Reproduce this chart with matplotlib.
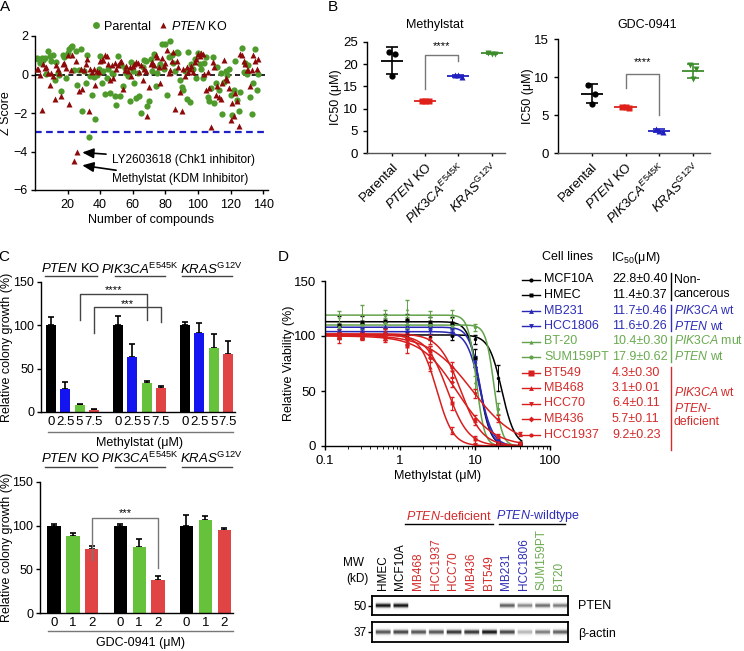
import numpy as np
import matplotlib
matplotlib.use('Agg')
import matplotlib.pyplot as plt
from matplotlib import transforms

plt.rcParams['font.family'] = ['Liberation Sans', 'DejaVu Sans']
plt.rcParams['mathtext.fontset'] = 'custom'
plt.rcParams['mathtext.rm'] = 'Liberation Sans'
plt.rcParams['mathtext.it'] = 'Liberation Sans:italic'
plt.rcParams['mathtext.bf'] = 'Liberation Sans:bold'
plt.rcParams['font.size'] = 8.5
plt.rcParams['axes.linewidth'] = 1.0
plt.rcParams['xtick.major.width'] = 1.0
plt.rcParams['ytick.major.width'] = 1.0
plt.rcParams['xtick.major.size'] = 3
plt.rcParams['ytick.major.size'] = 3

# ---------------- data ----------------
# A: screen Z scores, compounds 1..137
parental_z = [0.85, 0.82, 0.60, 0.85, 0.75, 0.87, 0.05, 1.22, 0.94, 0.70,
              0.99, -0.26, 0.65, 0.10, 0.00, -0.86, 1.00, 0.90, -0.20, 1.10,
              1.33, 1.42, 1.50, 0.25, 1.20, -0.55, 0.22, 1.30, -1.92, 0.20,
              -0.46, 1.00, -3.24, -0.10, -1.06, -0.12, -2.30, 0.00, 0.30, 0.94,
              -0.46, 0.20, -1.00, -0.20, 0.30, -0.98, 0.10, 0.05, -1.10, -1.58,
              0.94, -1.10, 0.50, -0.60, 0.35, 0.10, -0.10, -1.37, 0.65, 0.20,
              -0.43, -1.23, 0.10, -1.10, -2.00, 0.40, 0.74, 0.70, -1.63, -1.40,
              0.82, 0.20, 1.08, -0.60, 0.10, 0.40, 0.57, 1.56, 0.30, 1.56,
              -1.06, 0.90, 1.76, 1.00, 0.60, 0.20, 1.16, 1.11, -0.29, -0.63,
              -0.80, 0.20, -1.28, 1.15, -1.45, 0.53, 0.30, 0.80, -0.20, 1.11,
              0.57, 0.30, -0.20, 0.60, 0.90, -1.15, -1.40, -0.72, 0.90, -1.50,
              -0.46, 0.40, -0.80, 0.10, -2.04, -0.38, 0.20, -0.03, 0.30, -1.06,
              -2.09, -0.80, 0.70, -1.30, -1.88, -0.89, 1.40, 0.14, 0.60, 0.05,
              0.50, -1.15, -2.04, -0.43, 1.34, -0.80, 0.05]
pten_ko_z = [0.30, 0.26, 0.00, -1.83, 0.56, 0.35, 0.40, 0.10, -0.55, 0.10,
             -0.10, -1.28, 0.50, 0.30, 0.10, -1.10, 0.55, 0.60, 0.35, 1.00,
             -1.52, 0.25, 1.00, -4.50, 0.70, -4.00, -0.84, 0.30, -0.77, 0.25,
             0.53, 0.80, -1.92, 0.30, 0.15, 0.30, -0.55, 0.20, 0.13, 0.70,
             0.75, 0.77, 1.00, 0.95, 0.55, -0.30, 0.50, -0.20, 0.60, 0.26,
             0.50, 0.65, 0.70, -0.77, 0.25, 0.45, 0.20, 0.40, -0.10, 0.45,
             0.53, 0.65, 0.60, 0.15, 0.50, -0.30, 0.30, 0.20, -2.17, -0.63,
             0.55, 0.65, 0.50, 1.00, 0.90, 0.40, -0.46, 0.85, 0.45, 0.60,
             1.28, 0.10, 0.25, 0.70, 1.16, -1.78, 0.70, 0.40, -0.90, -1.88,
             0.30, -0.10, 0.40, 0.15, 0.30, 0.45, 0.15, 0.65, 0.80, 1.08,
             0.95, 1.10, 1.05, 0.05, -0.80, 0.15, -0.70, -2.72, 0.65, 0.40,
             -1.05, -0.60, -1.15, -1.25, -0.45, 0.75, -0.20, -0.30, -0.70, -2.38,
             -1.50, -2.14, -0.95, -1.40, -2.69, 1.08, 1.00, 0.70, 0.55, 0.25,
             0.25, -0.60, 0.25, 1.00, 0.70, 0.30, 0.80]

# B: IC50 replicates (uM)
b_labels = ['Parental', r'$\it{PTEN}$ KO', r'$\it{PIK3CA}^{E545K}$', r'$\it{KRAS}^{\rm{G12V}}$']
methylstat_ic50 = [[22.8, 22.4, 17.3], [11.8, 11.6, 11.7], [17.6, 17.2, 17.5], [22.6, 22.4, 22.3]]
gdc_ic50 = [[9.0, 7.8, 6.5], [6.1, 5.9, 6.0], [3.1, 2.7, 2.9], [11.6, 11.0, 9.8]]

# C: relative colony growth (%)
methyl_doses = ['0', '2.5', '5', '7.5']
methyl_growth = [[100, 27, 8, 2], [100, 63, 34, 28], [100, 91, 74, 67]]
methyl_err = [[10, 8, 1.5, 1], [11, 16, 2, 2.5], [4, 12, 16, 15]]
gdc_doses = ['0', '1', '2']
gdc_growth = [[100, 88, 73], [100, 76, 38], [100, 107, 95]]
gdc_err = [[1.5, 3.5, 4], [2, 9, 4], [12, 4, 2]]

# D: dose response
d_names = ['MCF10A', 'HMEC', 'MB231', 'HCC1806', 'BT-20', 'SUM159PT',
           'BT549', 'MB468', 'HCC70', 'MB436', 'HCC1937']
d_ic50 = [22.8, 11.4, 11.7, 11.6, 10.4, 17.9, 4.3, 3.1, 6.4, 5.7, 9.2]
d_ic50_sem = [0.40, 0.37, 0.46, 0.26, 0.30, 0.62, 0.30, 0.01, 0.11, 0.11, 0.23]
d_top = [101, 113, 108, 104, 119, 110, 101, 101, 102, 100, 101]
d_hill = [5, 6, 6, 5, 8, 8, 3.1, 4, 3, 1.8, 1.5]
d_conc = [0.156, 0.3125, 0.625, 1.25, 2.5, 5, 10, 20, 40]
d_viab = [[101, 100, 103, 101, 99, 100, 97, 62, 3],
          [110, 113, 114, 115, 113, 112, 80, 2, 0.5],
          [106, 108, 109, 110, 108, 107, 77, 3, 1],
          [103, 104, 102, 104, 105, 103, 76, 4, 1],
          [117, 120, 119, 125, 118, 120, 58, 1, 0],
          [108, 110, 112, 111, 110, 109, 108, 34, 0.5],
          [99, 100, 101, 91, 86, 39, 6, 1, 0],
          [101, 100, 99, 98, 72, 14, 1, 0, 0],
          [102, 101, 103, 100, 97, 67, 22, 3, 1],
          [100, 101, 99, 97, 80, 58, 25, 9, 3],
          [101, 100, 98, 95, 87, 72, 48, 25, 11]]
d_sd = [[4, 3, 4, 3, 3, 4, 4, 12, 1],
        [8, 5, 6, 5, 4, 5, 8, 1, 0.5],
        [3, 3, 4, 4, 3, 3, 5, 2, 1],
        [3, 3, 3, 3, 3, 3, 4, 2, 1],
        [6, 8, 5, 8, 5, 4, 6, 1, 0.5],
        [3, 4, 4, 4, 3, 3, 3, 5, 0.5],
        [5, 4, 5, 6, 5, 6, 3, 1, 0.5],
        [3, 3, 3, 3, 4, 3, 1, 0.5, 0.5],
        [4, 3, 4, 3, 4, 4, 3, 1, 0.5],
        [3, 3, 3, 4, 4, 4, 3, 2, 1],
        [3, 3, 3, 3, 4, 4, 4, 3, 2]]

# blot
lanes = ['HMEC', 'MCF10A', 'MB468', 'HCC1937', 'HCC70', 'MB436', 'BT549',
         'MB231', 'HCC1806', 'SUM159PT', 'BT20']
pten_band = [0.95, 0.95, 0, 0, 0, 0, 0, 0.7, 0.55, 0.65, 0.6]
actin_band = [0.75, 0.8, 0.75, 0.75, 0.85, 0.85, 0.95, 0.8, 0.4, 0.6, 0.7]

# ---------------- colours ----------------
A_GREEN, A_RED = '#4e9a2a', '#8c0a0a'
RED, BLUE, GREEN = '#e0201a', '#2020c0', '#3c8c2c'
BAR_BLUE, BAR_GREEN, BAR_RED = '#1414f0', '#66c23a', '#e04444'
D_BLUE, D_GREEN, D_RED = '#2828b4', '#62a24a', '#d81e1e'
T_BLUE, T_GREEN, T_RED = '#2e2eb8', '#6aaa50', '#d42a2a'

W, H = 744, 651
fig = plt.figure(figsize=(W / 100, H / 100), dpi=100)


def box(l, t, r, b):
    return [l / W, 1 - b / H, (r - l) / W, (b - t) / H]


def clean(ax):
    ax.spines['top'].set_visible(False)
    ax.spines['right'].set_visible(False)


# overlay in pixel coordinates for labels, brackets, legends
ov = fig.add_axes([0, 0, 1, 1])
ov.set_xlim(0, W)
ov.set_ylim(H, 0)
ov.axis('off')
ov.set_zorder(10)

for lab, x, y in [('A', 5, 7), ('B', 333, 7), ('C', 4, 257), ('D', 283, 257)]:
    ov.text(x, y, lab, fontsize=11, ha='center', va='center')

# ---------------- A ----------------
axA = fig.add_axes(box(35, 36, 268, 190))
cmp_idx = np.arange(1, len(parental_z) + 1)
axA.axhline(0, color='k', ls=(0, (3, 2)), lw=1.2, zorder=1)
axA.axhline(-3, color='#2020c8', ls=(0, (3, 2)), lw=1.6, zorder=1)
axA.plot(cmp_idx, parental_z, 'o', color=A_GREEN, ms=4.5, mec='none', label='Parental', zorder=2)
axA.plot(cmp_idx, pten_ko_z, '^', color=A_RED, ms=4.2, mec='none', label=r'$\it{PTEN}$ KO', zorder=3)
axA.set_xlim(0, 143)
axA.set_ylim(-6, 2)
axA.set_xticks(range(20, 141, 20))
axA.set_yticks([-6, -4, -2, 0, 2])
axA.tick_params(labelsize=9)
axA.tick_params(axis='y', pad=2)
axA.set_xlabel('Number of compounds', fontsize=9, labelpad=2)
axA.set_ylabel('Z Score', fontsize=9)
axA.yaxis.set_label_coords(-0.1, 0.5)
clean(axA)
axA.legend(loc='lower center', bbox_to_anchor=(0.53, 0.98), ncol=2, frameon=False,
           handletextpad=0.1, columnspacing=0.5, handlelength=1.0,
           borderaxespad=0.1, fontsize=9, markerscale=1.1)
arrow = dict(arrowstyle='-|>,head_length=0.8,head_width=0.35', color='k', lw=1.2,
             shrinkA=2, shrinkB=0)
axA.annotate('LY2603618 (Chk1 inhibitor)', xy=(29, -4.05), xytext=(47, -4.42),
             ha='left', va='center', fontsize=8.5, arrowprops=arrow)
axA.annotate('Methylstat (KDM Inhibitor)', xy=(29, -4.72), xytext=(47, -5.45),
             ha='left', va='center', fontsize=8.5, arrowprops=arrow)

# ---------------- B ----------------
b_colors = ['k', RED, BLUE, GREEN]
b_markers = ['o', 's', '^', 'v']
jitter = [-0.1, 0.1, 0.0]
axB1 = fig.add_axes(box(367, 42, 505, 153))
axB2 = fig.add_axes(box(558, 39, 710, 153))
b_specs = [(axB1, methylstat_ic50, (-0.75, 3.4), 25, -0.18, (14.5, 22.0, 20.7, 24.0)),
           (axB2, gdc_ic50, (-1.0, 3.5), 15, -0.16, (8.6, 10.4, 5.0, 11.9))]
for ax, vals, xl, ymax, lab_x, (l_low, top, r_low, star_y) in b_specs:
    for i, reps in enumerate(vals):
        m, sd = np.mean(reps), np.std(reps, ddof=1)
        ax.plot([i + j for j in jitter], reps, b_markers[i], color=b_colors[i], ms=4.5, mec='none')
        ax.hlines(m, i - 0.33, i + 0.33, color=b_colors[i], lw=1.3)
        ax.errorbar(i, m, yerr=sd, color=b_colors[i], capsize=4, lw=1.2, capthick=1.2)
    ax.plot([1, 1, 2, 2], [l_low, top, top, r_low], color='#777777', lw=1)
    ax.text(1.5, star_y, '****', ha='center', va='center', fontsize=8)
    ax.set_xlim(*xl)
    ax.set_ylim(0, ymax)
    ax.set_yticks(range(0, ymax + 1, 5))
    ax.set_xticks(range(4))
    ax.set_xticklabels(b_labels, rotation=45, ha='right', rotation_mode='anchor', fontsize=9.5)
    ax.tick_params(axis='y', labelsize=9.5)
    ax.tick_params(axis='x', length=2)
    ax.set_ylabel('IC50 (μM)', fontsize=9)
    ax.yaxis.set_label_coords(lab_x, 0.5)
    ax.spines['bottom'].set_color('#555555')
    clean(ax)
ov.text(435, 25, 'Methylstat', ha='center', va='center', fontsize=9)
ov.text(647, 25, 'GDC-0941', ha='center', va='center', fontsize=9)

# ---------------- C ----------------
def colony(ax, growth, err, doses, colors, gap, xl, lab_x):
    xs, labels = [], []
    for g, (vals, es) in enumerate(zip(growth, err)):
        x = [g * gap + i for i in range(len(vals))]
        ax.bar(x, vals, width=0.7, color=colors, zorder=2)
        ax.errorbar(x, vals, yerr=[[0] * len(es), es], fmt='none', ecolor='k',
                    capsize=2.5, lw=1.2, capthick=1.2, zorder=1)
        xs += x
        labels += doses
    ax.set_xticks(xs)
    ax.set_xticklabels(labels, fontsize=9.5)
    ax.tick_params(axis='x', length=0, pad=3)
    ax.set_xlim(*xl)
    ax.set_ylim(0, 150)
    ax.set_yticks([0, 50, 100, 150])
    ax.tick_params(axis='y', labelsize=9, pad=2)
    ax.set_ylabel('Relative colony growth (%)', fontsize=9)
    ax.yaxis.set_label_coords(lab_x, 0.5)
    clean(ax)


axC1 = fig.add_axes(box(41, 282, 235, 412))
colony(axC1, methyl_growth, methyl_err, methyl_doses, ['k', BAR_BLUE, BAR_GREEN, BAR_RED],
       4.7, (-0.7, 12.9), -0.145)
axC1.plot([2, 2, 6.7, 6.7], [106, 136.7, 136.7, 106], color='#444444', lw=1)
axC1.text(4.35, 140.5, '****', ha='center', va='center', fontsize=8)
axC1.plot([3, 3, 7.7, 7.7], [90.7, 120.6, 120.6, 104], color='#444444', lw=1)
axC1.text(5.35, 125, '***', ha='center', va='center', fontsize=8)

axC2 = fig.add_axes(box(40, 482, 233, 613))
colony(axC2, gdc_growth, gdc_err, gdc_doses, ['k', BAR_GREEN, BAR_RED], 3.5, (-0.74, 9.46), -0.142)
axC2.plot([2, 2, 5.5, 5.5], [60.8, 109, 109, 51], color='#777777', lw=1)
axC2.text(3.75, 114.5, '***', ha='center', va='center', fontsize=8)

headers = [r'$\it{PTEN}$ KO', r'$\it{PIK3CA}^{\rm{E545K}}$', r'$\it{KRAS}^{\rm{G12V}}$']
for ty, uy, ly in [(269, 275.5, 432), (458, 467, 631)]:
    for xc, (u0, u1), hd in zip([71, 140, 211], [(45, 97), (115, 165), (182, 232)], headers):
        ov.text(xc, ty, hd, ha='center', va='center', fontsize=9.5)
        ov.plot([u0, u1], [uy, uy], color='#444444', lw=1)
    ov.plot([48, 233], [ly, ly], color='#777777', lw=1)
ov.text(140, 443, 'Methylstat (μM)', ha='center', va='center', fontsize=9)
ov.text(140, 643, 'GDC-0941 (μM)', ha='center', va='center', fontsize=9)

# ---------------- D ----------------
d_colors = ['k', 'k', D_BLUE, D_BLUE, D_GREEN, D_GREEN] + [D_RED] * 5
t_colors = ['k', 'k', T_BLUE, T_BLUE, T_GREEN, T_GREEN] + [T_RED] * 5
d_markers = ['o', 's', '^', 'v', '^', 'o', 's', '^', 'v', 'D', 'o']
d_ms = [2.5, 3, 3, 3, 2.5, 2.5, 3.5, 3, 3, 2.5, 2.5]
axD = fig.add_axes(box(325, 281, 550, 446))
cx = np.logspace(-1, np.log10(42), 300)
for k in range(len(d_names)):
    fit = d_top[k] / (1 + (cx / d_ic50[k]) ** d_hill[k])
    axD.plot(cx, fit, color=d_colors[k], lw=1.1)
    axD.errorbar(d_conc, d_viab[k], yerr=d_sd[k], fmt=d_markers[k], color=d_colors[k],
                 ms=d_ms[k], lw=0.7, elinewidth=0.7, capsize=1.5, mec='none')
axD.set_xscale('log')
axD.set_xlim(0.1, 100)
axD.set_ylim(0, 150)
axD.set_xticks([0.1, 1, 10, 100])
axD.set_xticklabels(['0.1', '1', '10', '100'])
axD.set_yticks([0, 50, 100, 150])
axD.tick_params(labelsize=9.5)
axD.set_xlabel('Methylstat (μM)', fontsize=9, labelpad=2)
axD.set_ylabel('Relative Viability (%)', fontsize=9)
axD.yaxis.set_label_coords(-0.135, 0.5)
clean(axD)

# D legend table
ov.text(568, 257, 'Cell lines', ha='center', va='center', fontsize=9)
ov.text(636, 258, r'IC$_{50}$(μM)', ha='center', va='center', fontsize=9)
for k, name in enumerate(d_names):
    y = 279.5 + k * 15.5
    ov.plot([522, 540], [y, y], color=d_colors[k], lw=1)
    ov.plot([531], [y], d_markers[k], color=d_colors[k], ms=d_ms[k] + 0.5, mec='none')
    ov.text(544, y, name, color=t_colors[k], ha='left', va='center', fontsize=9)
    ov.text(612, y, f'{d_ic50[k]:.1f}±{d_ic50_sem[k]:.2f}', color=t_colors[k],
            ha='left', va='center', fontsize=9)
groups = [('k', (273, 300), ['Non-', 'cancerous'], [280, 294]),
          (T_BLUE, (305, 331), [r'$\it{PIK3CA}$ wt', r'$\it{PTEN}$ wt'], [311, 326]),
          (T_GREEN, (336, 362), [r'$\it{PIK3CA}$ mut', r'$\it{PTEN}$ wt'], [341, 357]),
          (T_RED, (367, 450), [r'$\it{PIK3CA}$ wt', r'$\it{PTEN}$-', 'deficient'], [393, 408, 422])]
for col, (y0, y1), texts, ys in groups:
    ov.plot([670.5, 670.5], [y0, y1], color=col, lw=1)
    for t, yy in zip(texts, ys):
        ov.text(674, yy, t, color=col, ha='left', va='center', fontsize=8.8)

# ---------------- western blot ----------------
def band_image(levels):
    rows = np.linspace(-1, 1, 40)[:, None]
    cols = np.linspace(-0.5, len(levels) - 0.5, len(levels) * 30, endpoint=False)
    idx = np.clip(np.round(cols).astype(int), 0, len(levels) - 1)
    inside = np.abs(cols - idx) < 0.43
    return np.exp(-(rows / 0.25) ** 2) * inside * np.array(levels)[idx]


axP = fig.add_axes(box(372, 596, 568, 615))
axAct = fig.add_axes(box(372, 622, 568, 642))
for ax, lev, mw, name, ny in [(axP, pten_band, '50', 'PTEN', 606),
                               (axAct, actin_band, '37', 'β-actin', 634)]:
    ax.imshow(band_image(lev), cmap='Greys', vmin=0, vmax=1, aspect='auto',
              extent=(-0.5, len(lev) - 0.5, 0, 1), interpolation='bilinear')
    ax.set_xlim(-0.6, len(lev) - 0.5)
    ax.set_ylim(0, 1)
    ax.set_xticks([])
    ax.set_yticks([0.5])
    ax.set_yticklabels([mw], fontsize=8.5)
    ax.tick_params(axis='y', length=3, pad=1)
    for s in ax.spines.values():
        s.set_linewidth(1.3)
    ov.text(578, ny, name, ha='left', va='center', fontsize=9)

lane_colors = ['k', 'k'] + [T_RED] * 5 + [T_BLUE] * 2 + [T_GREEN] * 2
lane_tr = transforms.blended_transform_factory(axP.transData, ov.transData)
for k, (lane, col) in enumerate(zip(lanes, lane_colors)):
    ov.text(k, 590, lane, transform=lane_tr, rotation=90, ha='center', va='bottom',
            color=col, fontsize=8.5)
ov.text(354, 563, 'MW', ha='center', va='center', fontsize=8.5)
ov.text(357, 579, '(kD)', ha='center', va='center', fontsize=8.5)
ov.text(449, 516, r'$\it{PTEN}$-deficient', color=T_RED, ha='center', va='center', fontsize=9)
ov.text(538, 516, r'$\it{PTEN}$-wildtype', color=T_BLUE, ha='center', va='center', fontsize=9)
ov.plot([405, 493], [524, 524], color='k', lw=1)
ov.plot([499, 565], [524, 524], color='k', lw=1)

fig.savefig('out.png', dpi=100)
